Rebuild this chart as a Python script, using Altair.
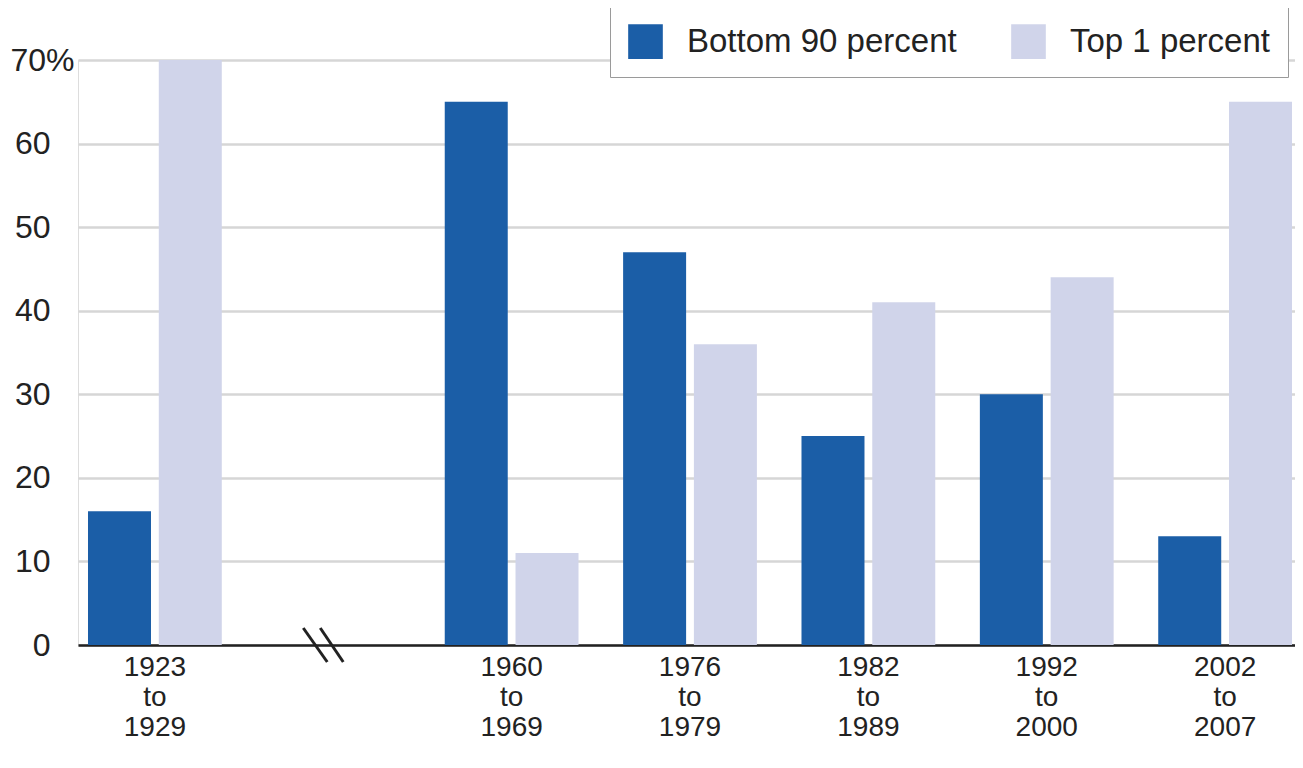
import altair as alt
import pandas as pd

# ---- data ----
periods = ["1923|to|1929", "1960|to|1969", "1976|to|1979",
           "1982|to|1989", "1992|to|2000", "2002|to|2007"]
bottom90 = [16, 65, 47, 25, 30, 13]
top1 = [70, 11, 36, 41, 44, 65]
series = ["Bottom 90 percent", "Top 1 percent"]
colors = ["#1b5ea7", "#d0d4ea"]
gap_key = "break"
y_ticks = [0, 10, 20, 30, 40, 50, 60, 70]

rows = []
for p, b, t in zip(periods, bottom90, top1):
    rows.append({"period": p, "series": series[0], "value": b})
    rows.append({"period": p, "series": series[1], "value": t})
df = pd.DataFrame(rows)
x_domain = [periods[0], gap_key] + periods[1:]
brk = pd.DataFrame({"period": [gap_key]})

FONT = "Liberation Sans, Arial, sans-serif"

x_scale = alt.Scale(domain=x_domain, paddingInner=0.25, paddingOuter=0.0364, align=0.77)

bars = alt.Chart(df).mark_bar().encode(
    x=alt.X("period:N", scale=x_scale, sort=x_domain,
            axis=alt.Axis(title=None,
                          labelExpr="datum.value == 'break' ? '' : split(datum.value, '|')",
                          labelAngle=0, labelFontSize=28, labelLineHeight=30,
                          labelPadding=8, ticks=False, domain=True,
                          domainColor="#222", domainWidth=2.5, labelColor="#222")),
    xOffset=alt.XOffset("series:N", sort=series,
                        scale=alt.Scale(paddingInner=0.11, paddingOuter=0)),
    y=alt.Y("value:Q", scale=alt.Scale(domain=[0, 70], nice=False),
            axis=alt.Axis(title=None, values=y_ticks,
                          labelExpr="datum.value == 70 ? '70%' : datum.label",
                          labelFontSize=32,
                          labelPadding={"condition": {"test": "datum.value == 70", "value": 4},
                                        "value": 28},
                          ticks=False, domain=False,
                          grid=True, gridColor="#d6d6d6", gridWidth=2.5,
                          labelColor="#222")),
    color=alt.Color("series:N", sort=series,
                    scale=alt.Scale(domain=series, range=colors),
                    legend=alt.Legend(title=None, orient="none", legendX=532, legendY=-54,
                                      direction="horizontal", fillColor="white",
                                      strokeColor="#9a9a9a", padding=18,
                                      labelFontSize=33, labelColor="#222", labelOffset=24,
                                      labelLimit=500,
                                      symbolType="square", symbolSize=1200,
                                      symbolStrokeWidth=0, columnPadding=54)),
)

rule1 = alt.Chart(brk).mark_rule(strokeWidth=3, color="#222",
                                 xOffset=-30, x2Offset=-6, yOffset=-17, y2Offset=17).encode(
    x=alt.X("period:N"), x2=alt.X2("period:N"), y=alt.datum(0), y2=alt.datum(0))
rule2 = alt.Chart(brk).mark_rule(strokeWidth=3, color="#222",
                                 xOffset=-13, x2Offset=10, yOffset=-17, y2Offset=17).encode(
    x=alt.X("period:N"), x2=alt.X2("period:N"), y=alt.datum(0), y2=alt.datum(0))

chart = alt.layer(bars, rule1, rule2).properties(
    width=1217, height=585,
    autosize=alt.AutoSizeParams(type="none"),
    padding={"left": 70, "top": 52, "right": 0, "bottom": 108},
    background="white",
).configure_view(stroke=None).configure(font=FONT)

chart.save("out.html", embed_options={"renderer": "svg", "actions": False})
